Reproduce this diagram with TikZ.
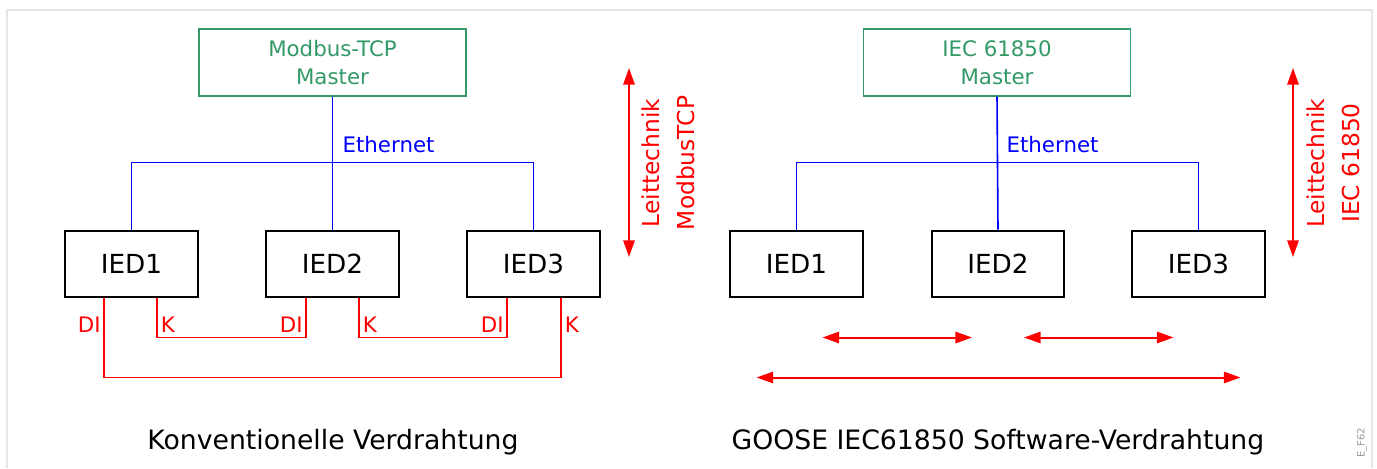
\documentclass[tikz,border=0pt]{standalone}
\usepackage{fontspec}
\setmainfont{DejaVu Sans}
\usetikzlibrary{arrows.meta,positioning,calc}
\definecolor{ldGreen}{HTML}{339966}
\definecolor{ldBlue}{HTML}{0000FF}
\definecolor{ldRed}{HTML}{FF0000}
\definecolor{ldFrame}{HTML}{E6E6E6}
\definecolor{ldMute}{HTML}{999999}
\tikzset{
  master/.style={
    draw=ldGreen, text=ldGreen, line width=1.1pt, minimum width=200pt, minimum height=50pt,
    inner sep=0pt, align=center, font=\fontsize{16}{21}\selectfont
  },
  ied/.style={draw=black, line width=1.5pt, minimum width=99.5pt, minimum height=49.5pt, inner sep=0pt, font=\fontsize{19.7}{23}\selectfont},
  bus/.style={ldBlue, line width=1.2pt},
  wire/.style={ldRed, line width=1.2pt},
  goose/.style={{Triangle[length=12.5pt,width=8.5pt]}-{Triangle[length=12.5pt,width=8.5pt]}, ldRed, line width=1.5pt},
  lbl/.style={font=\fontsize{16}{18}\selectfont, inner sep=1pt},
  vtag/.style={rotate=90, align=center, text=ldRed, font=\fontsize{17.5}{26}\selectfont},
  caption/.style={font=\fontsize{20}{24}\selectfont}
}
\begin{document}
\begin{tikzpicture}[x=0.75pt, y=-0.75pt]
  \useasboundingbox (0,0) rectangle (1377,468);
  \draw[ldFrame, line width=1.5pt] (7,468) -- (7,10) -- (1372,10) -- (1372,468);

  % conventional wiring
  \node[master] (mstA) at (332.5,62.5) {Modbus-TCP\\Master};
  \node[ied] (iedA1) at (131.5,263.5) {IED1};
  \node[ied] (iedA2) at (332.5,263.5) {IED2};
  \node[ied] (iedA3) at (533.5,263.5) {IED3};
  \draw[bus] (mstA.south) -- (iedA2.north);
  \draw[bus] (iedA1.north) -- ++(0,-67) -| (iedA3.north);
  \node[lbl, text=ldBlue, anchor=west] (ethA) at (341,145) {Ethernet};
  \draw[wire] ($(iedA1.south west)+(40,0)$) -- ++(0,80) -| ($(iedA3.south west)+(95,0)$);
  \draw[wire] ($(iedA1.south west)+(93,0)$) -- ++(0,40) -| ($(iedA2.south west)+(41,0)$);
  \draw[wire] ($(iedA2.south west)+(94,0)$) -- ++(0,40) -| ($(iedA3.south west)+(41,0)$);
  \node[lbl, text=ldRed, anchor=east] (diA1) at ($(iedA1.south west)+(38,27)$) {DI};
  \node[lbl, text=ldRed, anchor=west] (kA1) at ($(iedA1.south west)+(95,27)$) {K};
  \node[lbl, text=ldRed, anchor=east] (diA2) at ($(iedA2.south west)+(39,27)$) {DI};
  \node[lbl, text=ldRed, anchor=west] (kA2) at ($(iedA2.south west)+(96,27)$) {K};
  \node[lbl, text=ldRed, anchor=east] (diA3) at ($(iedA3.south west)+(39,27)$) {DI};
  \node[lbl, text=ldRed, anchor=west] (kA3) at ($(iedA3.south west)+(97,27)$) {K};
  \coordinate (upA) at (629,68);
  \coordinate (dnA) at (629,257);
  \draw[goose] (upA) -- (dnA);
  \node[vtag] (tagA) at (668,163) {Leittechnik\\ModbusTCP};
  \node[caption] (capA) at (333,442) {Konventionelle Verdrahtung};

  % GOOSE software wiring
  \node[master] (mstB) at (997,62.5) {IEC 61850\\Master};
  \node[ied] (iedB1) at (796.5,263.5) {IED1};
  \node[ied] (iedB2) at (998,263.5) {IED2};
  \node[ied] (iedB3) at (1198.5,263.5) {IED3};
  \draw[bus] (mstB.south) -- (iedB2.north);
  \draw[bus] (iedB1.north) -- ++(0,-67) -| (iedB3.north);
  \node[lbl, text=ldBlue, anchor=west] (ethB) at (1005,145) {Ethernet};
  \draw[goose] ($(iedB1.south)+(26,40)$) -- ($(iedB2.south)+(-26,40)$);
  \draw[goose] ($(iedB2.south)+(26,40)$) -- ($(iedB3.south)+(-25,40)$);
  \draw[goose] ($(iedB1.south)+(-40,80)$) -- ($(iedB3.south)+(42,80)$);
  \coordinate (upB) at (1293,68);
  \coordinate (dnB) at (1293,257);
  \draw[goose] (upB) -- (dnB);
  \node[vtag] (tagB) at (1333,163) {Leittechnik\\IEC 61850};
  \node[caption] (capB) at (998,442) {GOOSE IEC61850 Software-Verdrahtung};
  \node[rotate=90, text=ldMute, font=\fontsize{7.5}{9}\selectfont] (fig) at (1362,443) {E\_F62};
\end{tikzpicture}
\end{document}
